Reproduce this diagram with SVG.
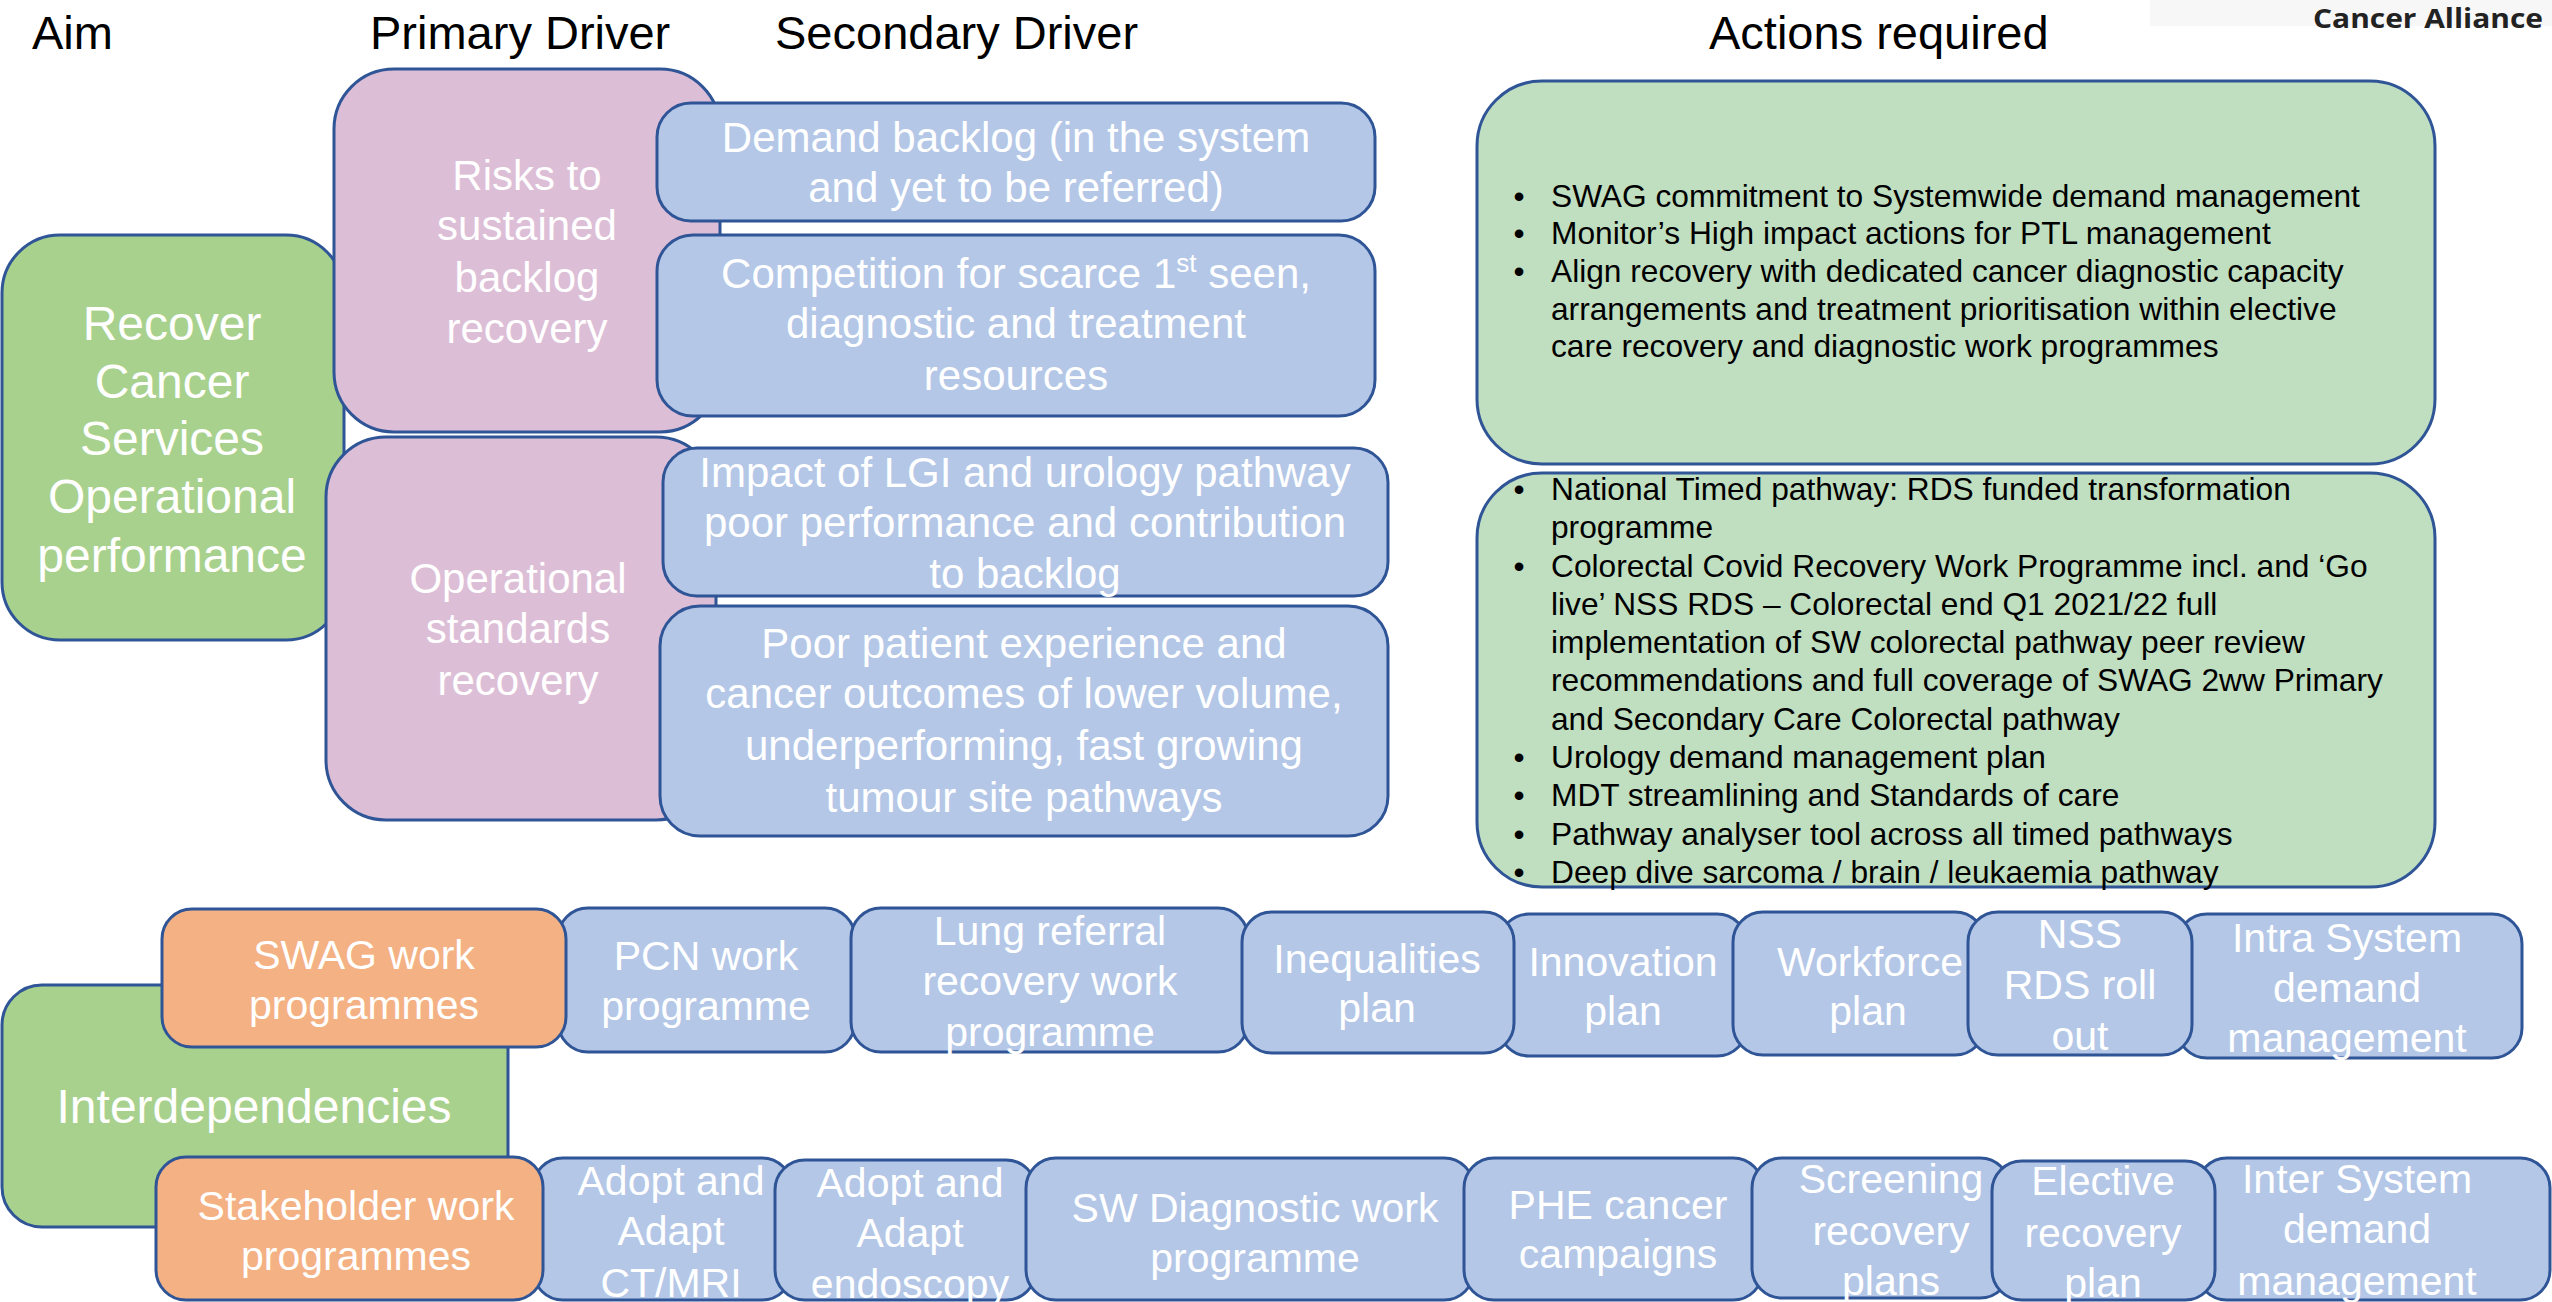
<svg xmlns="http://www.w3.org/2000/svg" width="2552" height="1302" viewBox="0 0 2552 1302">
<style>
text{font-family:"Liberation Sans",Arial,sans-serif}
.box{stroke:#2F5597;stroke-width:3}
.aim{fill:#A9D18E}
.pink{fill:#DDBED7}
.blue{fill:#B4C7E7}
.act{fill:#C0DEC0}
.org{fill:#F4B183}
.hd{font-size:47px;fill:#000}
.w48{font-size:48px;fill:#fff;text-anchor:middle}
.w42{font-size:42px;fill:#fff;text-anchor:middle}
.w41{font-size:41px;fill:#fff;text-anchor:middle}
.at{font-size:31.7px;fill:#000}
.bl{font-size:31.7px;fill:#000;text-anchor:middle}
</style>
<rect x="0" y="0" width="2552" height="1302" fill="#fff"/>
<rect x="2150" y="0" width="402" height="26" fill="#f7f7f7"/>
<text x="2313" y="28" textLength="230" lengthAdjust="spacingAndGlyphs" style="font-family:'Open Sans','Liberation Sans',sans-serif;font-weight:bold;font-size:26px;fill:#222">Cancer Alliance</text>

<g id="headers">
<text class="hd" x="32" y="49">Aim</text>
<text class="hd" x="370" y="49">Primary Driver</text>
<text class="hd" x="775" y="49">Secondary Driver</text>
<text class="hd" x="1709" y="49">Actions required</text>
</g>

<g id="connectors"></g>

<g id="aim">
<rect class="box aim" x="2" y="235" width="342" height="405" rx="58"/>
<text class="w48" x="172" y="340">Recover</text>
<text class="w48" x="172" y="398">Cancer</text>
<text class="w48" x="172" y="455">Services</text>
<text class="w48" x="172" y="513">Operational</text>
<text class="w48" x="172" y="572">performance</text>
</g>

<g id="primary1">
<rect class="box pink" x="334" y="69" width="386" height="363" rx="60"/>
<text class="w42" x="527" y="190">Risks to</text>
<text class="w42" x="527" y="240">sustained</text>
<text class="w42" x="527" y="292">backlog</text>
<text class="w42" x="527" y="343">recovery</text>
</g>

<g id="primary2">
<rect class="box pink" x="326" y="437" width="390" height="383" rx="60"/>
<text class="w42" x="518" y="593">Operational</text>
<text class="w42" x="518" y="643">standards</text>
<text class="w42" x="518" y="695">recovery</text>
</g>

<g id="secondary1">
<rect class="box blue" x="657" y="103" width="718" height="118" rx="34"/>
<text class="w42" x="1016" y="152">Demand backlog (in the system</text>
<text class="w42" x="1016" y="202">and yet to be referred)</text>
</g>

<g id="secondary2">
<rect class="box blue" x="657" y="235" width="718" height="181" rx="36"/>
<text class="w42" x="1016" y="288">Competition for scarce 1<tspan font-size="26" dy="-16">st</tspan><tspan dy="16"> seen,</tspan></text>
<text class="w42" x="1016" y="338">diagnostic and treatment</text>
<text class="w42" x="1016" y="390">resources</text>
</g>

<g id="secondary3">
<rect class="box blue" x="663" y="448" width="725" height="148" rx="34"/>
<text class="w42" x="1025" y="487">Impact of LGI and urology pathway</text>
<text class="w42" x="1025" y="537">poor performance and contribution</text>
<text class="w42" x="1025" y="588">to backlog</text>
</g>

<g id="secondary4">
<rect class="box blue" x="660" y="606" width="728" height="230" rx="40"/>
<text class="w42" x="1024" y="658">Poor patient experience and</text>
<text class="w42" x="1024" y="708">cancer outcomes of lower volume,</text>
<text class="w42" x="1024" y="760">underperforming,  fast growing</text>
<text class="w42" x="1024" y="812">tumour site pathways</text>
</g>

<g id="actions1">
<rect class="box act" x="1477" y="81" width="958" height="383" rx="65"/>
<text class="bl" x="1519" y="207">•</text><text class="at" x="1551" y="207">SWAG commitment to Systemwide demand management</text>
<text class="bl" x="1519" y="244">•</text><text class="at" x="1551" y="244">Monitor’s High impact actions for PTL management</text>
<text class="bl" x="1519" y="282">•</text><text class="at" x="1551" y="282">Align recovery with dedicated cancer diagnostic capacity</text>
<text class="at" x="1551" y="320">arrangements and treatment prioritisation within elective</text>
<text class="at" x="1551" y="357">care recovery and diagnostic work programmes</text>
</g>

<g id="actions2">
<rect class="box act" x="1477" y="473" width="958" height="414" rx="65"/>
<text class="bl" x="1519" y="500">•</text><text class="at" x="1551" y="500">National Timed pathway: RDS funded transformation</text>
<text class="at" x="1551" y="538">programme</text>
<text class="bl" x="1519" y="577">•</text><text class="at" x="1551" y="577">Colorectal Covid Recovery Work Programme incl. and ‘Go</text>
<text class="at" x="1551" y="615">live’ NSS RDS – Colorectal end Q1 2021/22 full</text>
<text class="at" x="1551" y="653">implementation of SW colorectal pathway peer review</text>
<text class="at" x="1551" y="691">recommendations and full coverage of SWAG 2ww Primary</text>
<text class="at" x="1551" y="730">and Secondary Care Colorectal pathway</text>
<text class="bl" x="1519" y="768">•</text><text class="at" x="1551" y="768">Urology demand management plan</text>
<text class="bl" x="1519" y="806">•</text><text class="at" x="1551" y="806">MDT streamlining and Standards of care</text>
<text class="bl" x="1519" y="845">•</text><text class="at" x="1551" y="845">Pathway analyser tool across all timed pathways</text>
<text class="bl" x="1519" y="883">•</text><text class="at" x="1551" y="883">Deep dive sarcoma / brain / leukaemia pathway</text>
</g>

<g id="interdependencies">
<rect class="box aim" x="2" y="985" width="506" height="242" rx="40"/>
<text class="w48" x="254" y="1123">Interdependencies</text>
</g>

<g id="pcn">
<rect class="box blue" x="558" y="908" width="297" height="144" rx="30"/>
<text class="w41" x="706" y="970">PCN work</text>
<text class="w41" x="706" y="1020">programme</text>
</g>
<g id="lung">
<rect class="box blue" x="851" y="908" width="397" height="144" rx="30"/>
<text class="w41" x="1050" y="945">Lung referral</text>
<text class="w41" x="1050" y="995">recovery work</text>
<text class="w41" x="1050" y="1046">programme</text>
</g>
<g id="innovation">
<rect class="box blue" x="1499" y="914" width="248" height="142" rx="30"/>
<text class="w41" x="1623" y="976">Innovation</text>
<text class="w41" x="1623" y="1025">plan</text>
</g>
<g id="inequalities">
<rect class="box blue" x="1242" y="912" width="272" height="141" rx="30"/>
<text class="w41" x="1377" y="973">Inequalities</text>
<text class="w41" x="1377" y="1022">plan</text>
</g>
<g id="workforce">
<rect class="box blue" x="1733" y="912" width="252" height="143" rx="30"/>
<text class="w41" x="1870" y="976">Workforce</text>
<text class="w41" x="1868" y="1025">plan</text>
</g>
<g id="intra">
<rect class="box blue" x="2177" y="914" width="345" height="144" rx="30"/>
<text class="w41" x="2347" y="952">Intra System</text>
<text class="w41" x="2347" y="1002">demand</text>
<text class="w41" x="2347" y="1052">management</text>
</g>
<g id="nss">
<rect class="box blue" x="1968" y="912" width="224" height="143" rx="30"/>
<text class="w41" x="2080" y="948">NSS</text>
<text class="w41" x="2080" y="999">RDS roll</text>
<text class="w41" x="2080" y="1050">out</text>
</g>
<g id="swag">
<rect class="box org" x="162" y="909" width="404" height="138" rx="30"/>
<text class="w41" x="364" y="969">SWAG work</text>
<text class="w41" x="364" y="1019">programmes</text>
</g>

<g id="ctmri">
<rect class="box blue" x="533" y="1158" width="259" height="142" rx="30"/>
<text class="w41" x="671" y="1195">Adopt and</text>
<text class="w41" x="671" y="1245">Adapt</text>
<text class="w41" x="671" y="1297">CT/MRI</text>
</g>
<g id="endoscopy">
<rect class="box blue" x="775" y="1160" width="261" height="140" rx="30"/>
<text class="w41" x="910" y="1197">Adopt and</text>
<text class="w41" x="910" y="1247">Adapt</text>
<text class="w41" x="910" y="1298">endoscopy</text>
</g>
<g id="swdiag">
<rect class="box blue" x="1026" y="1158" width="448" height="142" rx="30"/>
<text class="w41" x="1255" y="1222">SW Diagnostic work</text>
<text class="w41" x="1255" y="1272">programme</text>
</g>
<g id="phe">
<rect class="box blue" x="1464" y="1158" width="299" height="142" rx="30"/>
<text class="w41" x="1618" y="1219">PHE cancer</text>
<text class="w41" x="1618" y="1268">campaigns</text>
</g>
<g id="screening">
<rect class="box blue" x="1752" y="1158" width="258" height="140" rx="30"/>
<text class="w41" x="1891" y="1193">Screening</text>
<text class="w41" x="1891" y="1245">recovery</text>
<text class="w41" x="1891" y="1295">plans</text>
</g>
<g id="inter">
<rect class="box blue" x="2197" y="1158" width="353" height="142" rx="30"/>
<text class="w41" x="2357" y="1193">Inter System</text>
<text class="w41" x="2357" y="1243">demand</text>
<text class="w41" x="2357" y="1295">management</text>
</g>
<g id="elective">
<rect class="box blue" x="1992" y="1161" width="223" height="139" rx="30"/>
<text class="w41" x="2103" y="1195">Elective</text>
<text class="w41" x="2103" y="1247">recovery</text>
<text class="w41" x="2103" y="1297">plan</text>
</g>
<g id="stakeholder">
<rect class="box org" x="156" y="1157" width="387" height="143" rx="30"/>
<text class="w41" x="356" y="1220">Stakeholder work</text>
<text class="w41" x="356" y="1270">programmes</text>
</g>
</svg>
